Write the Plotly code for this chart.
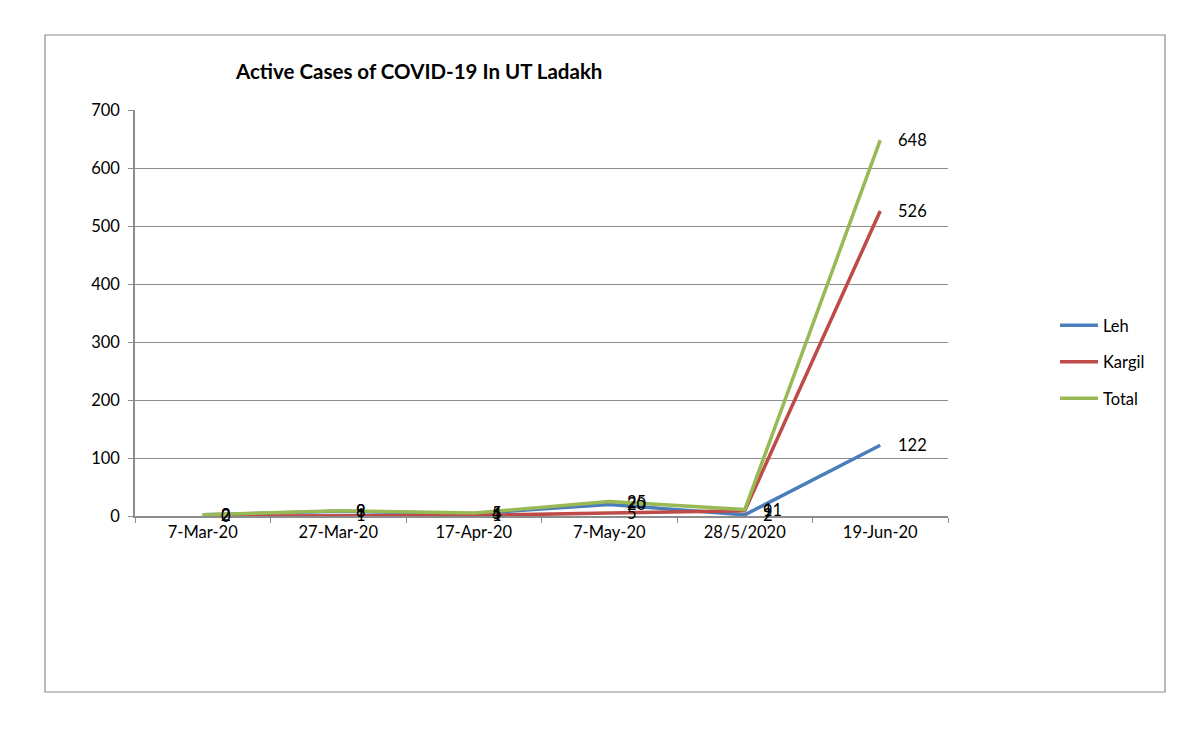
import plotly.graph_objects as go

dates = ["7-Mar-20", "27-Mar-20", "17-Apr-20", "7-May-20", "28/5/2020", "19-Jun-20"]
leh = [2, 8, 4, 20, 2, 122]
kargil = [0, 1, 1, 5, 9, 526]
total = [2, 9, 5, 25, 11, 648]
y_ticks = [0, 100, 200, 300, 400, 500, 600, 700]

series = [("Leh", leh, "#4A7EBB"), ("Kargil", kargil, "#BE4B48"), ("Total", total, "#98B954")]
FONT = "Lato, Open Sans, sans-serif"

fig = go.Figure()
for name, vals, color in series:
    fig.add_trace(go.Scatter(
        x=dates, y=vals, name=name, mode="lines", legendgroup=name,
        line=dict(color=color, width=3.5),
    ))
for name, vals, color in series:
    for d, v in zip(dates, vals):
        fig.add_annotation(x=d, y=v, text=str(v), showarrow=False,
                           xanchor="left", yanchor="middle", xshift=16,
                           font=dict(family=FONT, size=16.5, color="black"))

# page body has 8px margin; plot area at page x 135-948, y 110-516
fig.update_layout(
    width=1200, height=747,
    paper_bgcolor="white", plot_bgcolor="white",
    margin=dict(l=127, r=260, t=102, b=239),
    font=dict(family=FONT, size=16.5, color="black"),
    title=dict(text="<b>Active Cases of COVID-19 In UT Ladakh</b>", x=(236 - 8) / 1200, xanchor="left",
               y=1 - (72 - 8) / 747, yanchor="middle", xref="container", yref="container",
               font=dict(size=20.5, color="black")),
    legend=dict(x=1.1316, y=0.379, xanchor="left", yanchor="middle",
                font=dict(size=16.5), itemwidth=38, tracegroupgap=12,
                bgcolor="rgba(0,0,0,0)"),
    showlegend=True,
)
fig.update_xaxes(type="category", range=[-0.5, 5.5], showgrid=False,
                 showline=True, linecolor="#8c8c8c", linewidth=1.5,
                 ticks="outside", tickson="boundaries", ticklen=5, tickcolor="#8c8c8c",
                 tickfont=dict(size=16.5))
fig.update_yaxes(range=[0, 700], tickvals=y_ticks, showgrid=True, gridcolor="#8c8c8c",
                 gridwidth=1, showline=True, linecolor="#8c8c8c", linewidth=1.5,
                 ticks="outside", ticklen=5, tickcolor="#8c8c8c", zeroline=False,
                 ticklabelstandoff=5, tickfont=dict(size=16.5))

fig.add_shape(type="rect", xref="paper", yref="paper",
              x0=-0.1107, x1=1.2669, y0=-0.4335, y1=1.1847,
              line=dict(color="#8c8c8c", width=1.2), fillcolor="rgba(0,0,0,0)", layer="below")

fig.write_html("out.html")
